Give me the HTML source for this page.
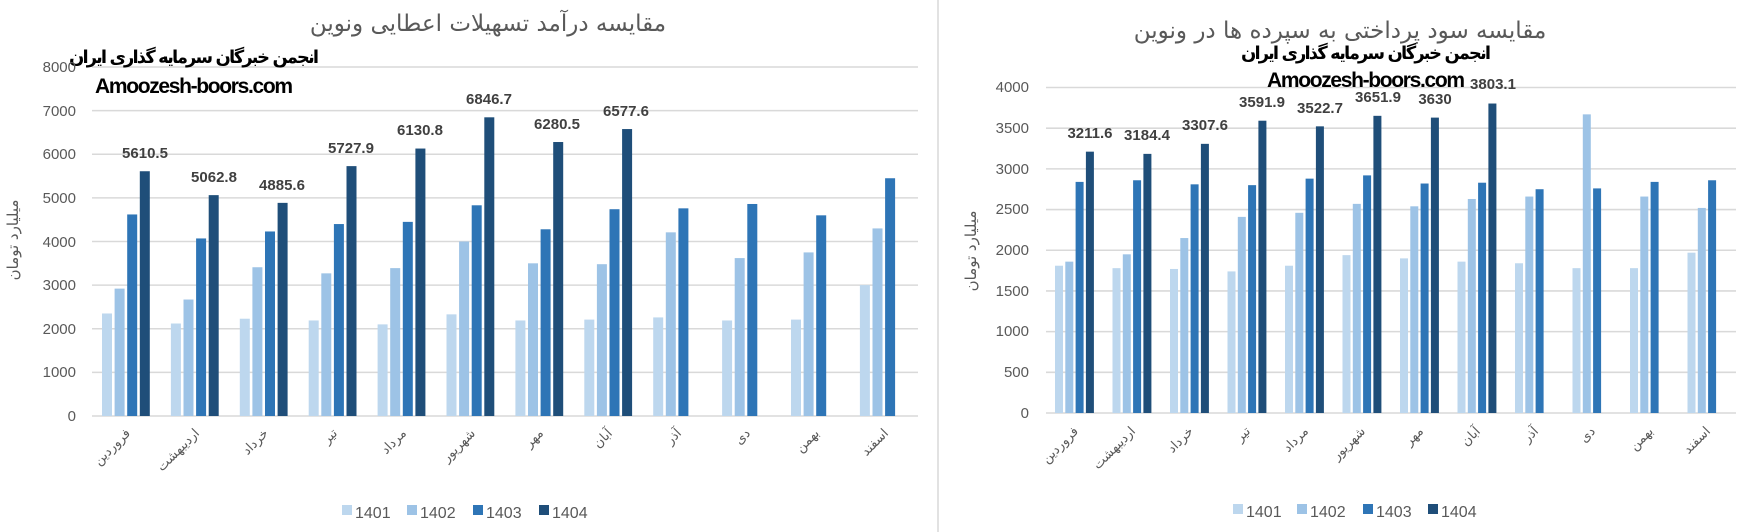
<!DOCTYPE html>
<html><head><meta charset="utf-8"><style>
body{margin:0;background:#fff;width:1752px;height:532px;overflow:hidden}
svg{display:block}
.tick{font-family:"Liberation Sans",sans-serif;font-size:15px;fill:#595959}
.xl{font-family:"DejaVu Sans",sans-serif;font-size:13px;fill:#595959}
.dl{font-family:"Liberation Sans",sans-serif;font-size:15px;font-weight:bold;fill:#404040}
.lg{font-family:"Liberation Sans",sans-serif;font-size:16px;fill:#595959}
</style></head><body>
<svg id="s" width="1752" height="532" xmlns="http://www.w3.org/2000/svg">
<rect width="1752" height="532" fill="#fff"/>
<line x1="938" y1="0" x2="938" y2="532" stroke="#d9d9d9" stroke-width="1.5"/>
<g id="grid"></g>
<g id="bars"></g>
<text x="488" y="31" text-anchor="middle" style="font-family:'DejaVu Sans',sans-serif;font-size:23px;fill:#595959">مقایسه درآمد تسهیلات اعطایی  ونوین</text>
<text x="194" y="63" text-anchor="middle" textLength="250" style="font-family:'DejaVu Sans',sans-serif;font-size:18px;font-weight:bold;fill:#000">انجمن خبرگان سرمایه گذاری ایران</text>
<text x="194" y="93" text-anchor="middle" textLength="198" style="font-family:'Liberation Sans',sans-serif;font-size:21px;font-weight:bold;fill:#000">Amoozesh-boors.com</text>
<g class="tick" text-anchor="end">
<text x="76" y="421">0</text><text x="76" y="377">1000</text><text x="76" y="334">2000</text><text x="76" y="290">3000</text><text x="76" y="247">4000</text><text x="76" y="203">5000</text><text x="76" y="159">6000</text><text x="76" y="116">7000</text><text x="76" y="72">8000</text>
</g>
<text transform="translate(18,240) rotate(-90)" text-anchor="middle" style="font-family:'DejaVu Sans',sans-serif;font-size:15px;fill:#595959">میلیارد تومان</text>
<g class="dl" text-anchor="middle">
<text x="145" y="158">5610.5</text><text x="214" y="182">5062.8</text><text x="282" y="190">4885.6</text><text x="351" y="153">5727.9</text><text x="420" y="135">6130.8</text><text x="489" y="104">6846.7</text><text x="557" y="129">6280.5</text><text x="626" y="116">6577.6</text>
</g>
<g class="xl" text-anchor="end">
<text transform="translate(131,434) rotate(-45)">فروردین</text>
<text transform="translate(200,434) rotate(-45)">اردیبهشت</text>
<text transform="translate(269,434) rotate(-45)">خرداد</text>
<text transform="translate(338,434) rotate(-45)">تیر</text>
<text transform="translate(407,434) rotate(-45)">مرداد</text>
<text transform="translate(476,434) rotate(-45)">شهریور</text>
<text transform="translate(544,434) rotate(-45)">مهر</text>
<text transform="translate(613,434) rotate(-45)">آبان</text>
<text transform="translate(682,434) rotate(-45)">آذر</text>
<text transform="translate(751,434) rotate(-45)">دی</text>
<text transform="translate(820,434) rotate(-45)">بهمن</text>
<text transform="translate(889,434) rotate(-45)">اسفند</text>
</g>
<g class="lg">
<rect x="342" y="505" width="10" height="10" fill="#bdd7ee"/><text x="355" y="518">1401</text>
<rect x="407" y="505" width="10" height="10" fill="#9dc3e6"/><text x="420" y="518">1402</text>
<rect x="473" y="505" width="10" height="10" fill="#2e75b6"/><text x="486" y="518">1403</text>
<rect x="539" y="505" width="10" height="10" fill="#1f4e79"/><text x="552" y="518">1404</text>
</g>
<text x="1340" y="38" text-anchor="middle" style="font-family:'DejaVu Sans',sans-serif;font-size:23px;fill:#595959">مقایسه سود پرداختی به سپرده ها در ونوین</text>
<text x="1366" y="59" text-anchor="middle" textLength="250" style="font-family:'DejaVu Sans',sans-serif;font-size:18px;font-weight:bold;fill:#000">انجمن خبرگان سرمایه گذاری ایران</text>
<text x="1366" y="87" text-anchor="middle" textLength="198" style="font-family:'Liberation Sans',sans-serif;font-size:21px;font-weight:bold;fill:#000">Amoozesh-boors.com</text>
<g class="tick" text-anchor="end">
<text x="1029" y="418">0</text><text x="1029" y="377">500</text><text x="1029" y="336">1000</text><text x="1029" y="296">1500</text><text x="1029" y="255">2000</text><text x="1029" y="214">2500</text><text x="1029" y="174">3000</text><text x="1029" y="133">3500</text><text x="1029" y="92">4000</text>
</g>
<text transform="translate(976,251) rotate(-90)" text-anchor="middle" style="font-family:'DejaVu Sans',sans-serif;font-size:15px;fill:#595959">میلیارد تومان</text>
<g class="dl" text-anchor="middle">
<text x="1090" y="138">3211.6</text><text x="1147" y="140">3184.4</text><text x="1205" y="130">3307.6</text><text x="1262" y="107">3591.9</text><text x="1320" y="113">3522.7</text><text x="1378" y="102">3651.9</text><text x="1435" y="104">3630</text><text x="1493" y="89">3803.1</text>
</g>
<g class="xl" text-anchor="end">
<text transform="translate(1079,432) rotate(-45)">فروردین</text>
<text transform="translate(1136,432) rotate(-45)">اردیبهشت</text>
<text transform="translate(1194,432) rotate(-45)">خرداد</text>
<text transform="translate(1251,432) rotate(-45)">تیر</text>
<text transform="translate(1309,432) rotate(-45)">مرداد</text>
<text transform="translate(1366,432) rotate(-45)">شهریور</text>
<text transform="translate(1424,432) rotate(-45)">مهر</text>
<text transform="translate(1481,432) rotate(-45)">آبان</text>
<text transform="translate(1539,432) rotate(-45)">آذر</text>
<text transform="translate(1596,432) rotate(-45)">دی</text>
<text transform="translate(1654,432) rotate(-45)">بهمن</text>
<text transform="translate(1711,432) rotate(-45)">اسفند</text>
</g>
<g class="lg">
<rect x="1233" y="504" width="10" height="10" fill="#bdd7ee"/><text x="1246" y="517">1401</text>
<rect x="1297" y="504" width="10" height="10" fill="#9dc3e6"/><text x="1310" y="517">1402</text>
<rect x="1363" y="504" width="10" height="10" fill="#2e75b6"/><text x="1376" y="517">1403</text>
<rect x="1428" y="504" width="10" height="10" fill="#1f4e79"/><text x="1441" y="517">1404</text>
</g>
</svg>
<script>
var NS="http://www.w3.org/2000/svg",C=["#bdd7ee","#9dc3e6","#2e75b6","#1f4e79"];
function el(p,t,a){var e=document.createElementNS(NS,t);for(var k in a)e.setAttribute(k,a[k]);p.appendChild(e);}
var g=document.getElementById("grid"),b=document.getElementById("bars");
for(var i=0;i<=8;i++){var y=416-i*1000*349/8000;el(g,"line",{x1:92,x2:918,y1:y,y2:y,stroke:"#d9d9d9","stroke-width":1.6});}
for(var i=0;i<=8;i++){var y=413-i*500*325.5/4000;el(g,"line",{x1:1046,x2:1736,y1:y,y2:y,stroke:"#d9d9d9","stroke-width":1.6});}
var L=[[2350,2920,4620,5610.5],[2120,2670,4070,5062.8],[2230,3410,4230,4885.6],[2190,3270,4400,5727.9],[2100,3390,4450,6130.8],[2330,4000,4830,6846.7],[2190,3500,4280,6280.5],[2210,3480,4740,6577.6],[2260,4210,4760,0],[2190,3620,4860,0],[2210,3750,4600,0],[3000,4300,5450,0]];
var R=[[1810,1860,2840,3211.6],[1780,1950,2860,3184.4],[1770,2150,2810,3307.6],[1740,2410,2800,3591.9],[1810,2460,2880,3522.7],[1940,2570,2920,3651.9],[1900,2540,2820,3630],[1860,2630,2830,3803.1],[1840,2660,2750,0],[1780,3670,2760,0],[1780,2660,2840,0],[1970,2520,2860,0]];
L.forEach(function(d,i){d.forEach(function(v,k){if(!v)return;var h=v*349/8000;el(b,"rect",{x:102+68.9*i+k*12.6,y:416-h,width:10,height:h,fill:C[k]});});});
R.forEach(function(d,i){d.forEach(function(v,k){if(!v)return;var h=v*325.5/4000;el(b,"rect",{x:1055+57.5*i+k*10.3,y:413-h,width:8,height:h,fill:C[k]});});});
</script>
</body></html>
